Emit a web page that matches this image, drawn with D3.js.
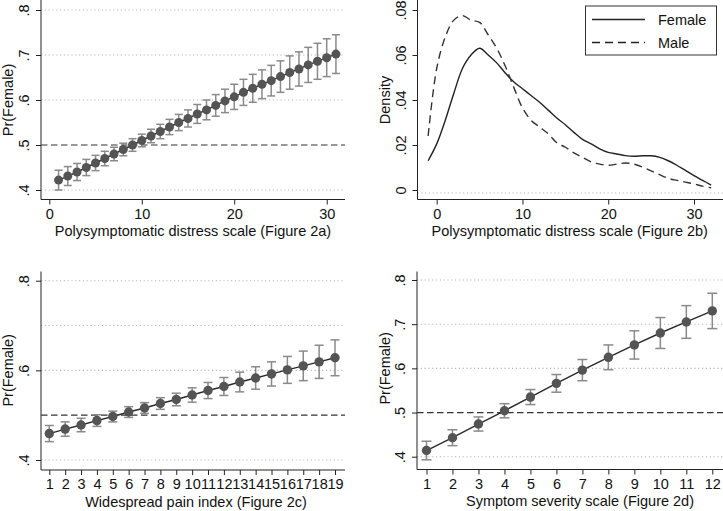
<!DOCTYPE html>
<html>
<head>
<meta charset="utf-8">
<script src="https://cdn.jsdelivr.net/npm/d3@7"></script>
<style>
  html, body { margin: 0; padding: 0; background: #ffffff; }
  svg { display: block; }
  text { font-family: "Liberation Sans", Arial, Helvetica, sans-serif; fill: #111; }
</style>
</head>
<body>
<svg id="chart" width="723" height="511"></svg>
<script>
// ---------- DATA ----------
// Panel a: Polysymptomatic distress scale
const psdX = [1,2,3,4,5,6,7,8,9,10,11,12,13,14,15,16,17,18,19,20,21,22,23,24,25,26,27,28,29,30,31];
const psdPr = [0.422,0.431,0.440,0.450,0.460,0.470,0.480,0.490,0.500,0.510,0.520,0.530,0.540,0.550,0.559,0.569,0.578,0.588,0.598,0.607,0.617,0.626,0.635,0.643,0.652,0.661,0.669,0.678,0.686,0.694,0.702];
const psdCI = [0.022,0.021,0.019,0.018,0.017,0.016,0.015,0.014,0.014,0.014,0.015,0.016,0.017,0.018,0.019,0.021,0.022,0.024,0.026,0.028,0.029,0.031,0.032,0.034,0.035,0.037,0.038,0.039,0.040,0.042,0.043];
const psdTicks = [0,10,20,30];

// Panel b: kernel densities
const densX = [-1,0,1,2,3,4,5,6,7,8,9,10,11,12,13,14,15,16,17,18,19,20,21,22,23,24,25,26,27,28,29,30,31,32];
const densFemale = [0.013,0.0205,0.031,0.043,0.054,0.060,0.063,0.060,0.0565,0.052,0.048,0.045,0.042,0.039,0.0355,0.032,0.029,0.0256,0.0225,0.0205,0.0183,0.0167,0.016,0.0153,0.015,0.0152,0.0152,0.0145,0.013,0.011,0.0087,0.0064,0.0043,0.0022];
const densMale = [0.024,0.054,0.068,0.0755,0.0775,0.0755,0.0745,0.069,0.063,0.055,0.0455,0.0365,0.031,0.028,0.025,0.021,0.019,0.0165,0.0145,0.0125,0.0115,0.011,0.0115,0.012,0.0115,0.0102,0.0085,0.0068,0.0052,0.0043,0.0035,0.0027,0.0017,0.001];
const densTicksY = [0,0.02,0.04,0.06,0.08];
const densTickLabels = ["0",".02",".04",".06",".08"];
const legendLabels = ["Female","Male"];

// Panel c: Widespread pain index
const wpiX = [1,2,3,4,5,6,7,8,9,10,11,12,13,14,15,16,17,18,19];
const wpiPr = [0.459,0.469,0.478,0.488,0.497,0.507,0.516,0.526,0.535,0.545,0.555,0.564,0.574,0.583,0.592,0.601,0.610,0.619,0.628];
const wpiCI = [0.018,0.016,0.015,0.013,0.012,0.012,0.012,0.013,0.014,0.016,0.018,0.020,0.022,0.025,0.027,0.030,0.033,0.037,0.040];

// Panel d: Symptom severity scale
const sssX = [1,2,3,4,5,6,7,8,9,10,11,12];
const sssPr = [0.414,0.443,0.474,0.504,0.535,0.566,0.596,0.625,0.653,0.680,0.705,0.730];
const sssCI = [0.021,0.018,0.016,0.016,0.017,0.020,0.024,0.028,0.032,0.035,0.037,0.040];

const prTicksFull = [0.4,0.5,0.6,0.7,0.8];
const prLabelsFull = [".4",".5",".6",".7",".8"];
const prTicksSparse = [0.4,0.6,0.8];
const prLabelsSparse = [".4",".6",".8"];
const prGrid = [0.4,0.6,0.7,0.8];
const refLine = 0.5;

const titles = {
  a: "Polysymptomatic distress scale (Figure 2a)",
  b: "Polysymptomatic distress scale (Figure 2b)",
  c: "Widespread pain index (Figure 2c)",
  d: "Symptom severity scale (Figure 2d)"
};
const yTitlePr = "Pr(Female)";
const yTitleDens = "Density";

// ---------- DRAW ----------
const svg = d3.select("#chart");
const FS = 14.5;
const axisColor = "#222";

function frame(p) {
  const g = svg.append("g");
  // gridlines
  p.grid.forEach(v => {
    g.append("line")
      .attr("x1", p.left).attr("x2", p.right)
      .attr("y1", p.y(v) + (p.gridShift || 0)).attr("y2", p.y(v) + (p.gridShift || 0))
      .attr("stroke", "#b8b8b8").attr("stroke-width", 1.1)
      .attr("stroke-dasharray", "1.2,2.6");
  });
  // y axis
  const yAxis = d3.axisLeft(p.y).tickValues(p.yTicks)
    .tickFormat((d, i) => p.yLabels[i]).tickSize(5).tickSizeOuter(0).tickPadding(3);
  const ya = g.append("g").attr("transform", `translate(${p.left},0)`).call(yAxis);
  ya.select(".domain").remove();
  ya.selectAll(".tick line").attr("stroke", axisColor);
  ya.selectAll(".tick text")
    .attr("font-size", FS).attr("fill", "#111")
    .attr("text-anchor", "middle")
    .attr("dy", null)
    .attr("x", null)
    .attr("transform", "translate(-17,0) rotate(-90)")
    .attr("dominant-baseline", "central");
  g.append("line").attr("x1", p.left).attr("x2", p.left)
    .attr("y1", p.top).attr("y2", p.axisY)
    .attr("stroke", axisColor).attr("stroke-width", 1);
  // x axis
  const xAxis = d3.axisBottom(p.x).tickValues(p.xTicks).tickFormat(d3.format("d"))
    .tickSize(5).tickSizeOuter(0).tickPadding(3);
  const xa = g.append("g").attr("transform", `translate(0,${p.axisY})`).call(xAxis);
  xa.select(".domain").remove();
  xa.selectAll(".tick line").attr("stroke", axisColor);
  xa.selectAll(".tick text").attr("font-size", FS).attr("fill", "#111")
    .attr("y", 14).attr("dy", null).attr("dominant-baseline", "central");
  g.append("line").attr("x1", p.left).attr("x2", p.right)
    .attr("y1", p.axisY).attr("y2", p.axisY)
    .attr("stroke", axisColor).attr("stroke-width", 1);
  // titles
  g.append("text").attr("x", (p.left + p.right) / 2 + (p.titleDx || 0)).attr("y", p.axisY + 31.5)
    .attr("text-anchor", "middle").attr("dominant-baseline", "central")
    .attr("font-size", FS).text(p.xTitle);
  g.append("text")
    .attr("transform", `translate(${p.yTitleX},${(p.y.range()[0] + p.y.range()[1]) / 2}) rotate(-90)`)
    .attr("text-anchor", "middle").attr("dominant-baseline", "central")
    .attr("font-size", FS).text(p.yTitle);
  return g;
}

function prPanel(p, xs, pr, ci) {
  const g = frame(p);
  g.append("line")
    .attr("x1", p.left).attr("x2", p.right)
    .attr("y1", p.y(refLine)).attr("y2", p.y(refLine))
    .attr("stroke", "#333").attr("stroke-width", 1.2)
    .attr("stroke-dasharray", "6.5,3.5");
  const data = xs.map((x, i) => ({ x, v: pr[i], lo: pr[i] - ci[i], hi: pr[i] + ci[i] }));
  const capW = p.capW;
  const eb = g.append("g").attr("stroke", "#8a8a8a").attr("stroke-width", 1.5);
  data.forEach(d => {
    eb.append("line").attr("x1", p.x(d.x)).attr("x2", p.x(d.x))
      .attr("y1", p.y(d.lo)).attr("y2", p.y(d.hi));
    eb.append("line").attr("x1", p.x(d.x) - capW).attr("x2", p.x(d.x) + capW)
      .attr("y1", p.y(d.lo)).attr("y2", p.y(d.lo));
    eb.append("line").attr("x1", p.x(d.x) - capW).attr("x2", p.x(d.x) + capW)
      .attr("y1", p.y(d.hi)).attr("y2", p.y(d.hi));
  });
  g.append("path").datum(data)
    .attr("d", d3.line().x(d => p.x(d.x)).y(d => p.y(d.v)))
    .attr("fill", "none").attr("stroke", "#2a2a2a").attr("stroke-width", 1.4);
  g.selectAll("circle.m").data(data).enter().append("circle")
    .attr("cx", d => p.x(d.x)).attr("cy", d => p.y(d.v)).attr("r", p.r)
    .attr("fill", "#545454");
}

// Panel a
prPanel({
  left: 41, right: 345, top: 0, axisY: 199.5,
  x: d3.scaleLinear().domain([0, 30]).range([49.3, 326.7]),
  y: d3.scaleLinear().domain([0.4, 0.8]).range([190, 10]),
  xTicks: psdTicks, yTicks: prTicksFull, yLabels: prLabelsFull, grid: prGrid,
  xTitle: titles.a, yTitle: yTitlePr, yTitleX: 7.5, capW: 4, r: 4.5
}, psdX, psdPr, psdCI);

// Panel c
prPanel({
  left: 41, right: 345, top: 271.5, axisY: 470,
  x: d3.scaleLinear().domain([1, 19]).range([49.3, 335]),
  y: d3.scaleLinear().domain([0.4, 0.8]).range([460, 280.7]),
  xTicks: wpiX, yTicks: prTicksSparse, yLabels: prLabelsSparse, grid: prGrid,
  xTitle: titles.c, yTitle: yTitlePr, yTitleX: 7.5, titleDx: 3, capW: 4.5, r: 4.7
}, wpiX, wpiPr, wpiCI);

// Panel d
prPanel({
  left: 417, right: 723, top: 271.5, axisY: 469.5,
  x: d3.scaleLinear().domain([1, 12]).range([426.5, 712.3]),
  y: d3.scaleLinear().domain([0.4, 0.8]).range([456.7, 280]),
  xTicks: sssX, yTicks: prTicksFull, yLabels: prLabelsFull, grid: prGrid,
  xTitle: titles.d, yTitle: yTitlePr, yTitleX: 385, titleDx: 10, capW: 5, r: 4.7
}, sssX, sssPr, sssCI);

// Panel b
(function () {
  const p = {
    left: 417.5, right: 723, top: 0, axisY: 199.5,
    x: d3.scaleLinear().domain([0, 30]).range([436.7, 694]),
    y: d3.scaleLinear().domain([0, 0.08]).range([190, 10]),
    xTicks: psdTicks, yTicks: densTicksY, yLabels: densTickLabels, grid: [0], gridShift: 3,
    xTitle: titles.b, yTitle: yTitleDens, yTitleX: 385, titleDx: -0.5
  };
  const g = frame(p);
  const line = d3.line().x((d, i) => p.x(densX[i])).y(d => p.y(d)).curve(d3.curveCatmullRom.alpha(0.5));
  g.append("path").datum(densFemale).attr("d", line)
    .attr("fill", "none").attr("stroke", "#222").attr("stroke-width", 1.4);
  g.append("path").datum(densMale).attr("d", line)
    .attr("fill", "none").attr("stroke", "#333").attr("stroke-width", 1.4)
    .attr("stroke-dasharray", "8,5");
  // legend
  const lg = svg.append("g");
  lg.append("rect").attr("x", 585.5).attr("y", 6).attr("width", 131).attr("height", 49)
    .attr("fill", "#fff").attr("stroke", "#333").attr("stroke-width", 1);
  const dashes = [null, "8,5"];
  const ly = [19.5, 42.5];
  legendLabels.forEach((lab, i) => {
    lg.append("line").attr("x1", 592).attr("x2", 645).attr("y1", ly[i]).attr("y2", ly[i])
      .attr("stroke", "#222").attr("stroke-width", 1.4)
      .attr("stroke-dasharray", dashes[i]);
    lg.append("text").attr("x", 658).attr("y", ly[i] + 0.5).attr("dominant-baseline", "central")
      .attr("font-size", FS).text(lab);
  });
})();
</script>
</body>
</html>
